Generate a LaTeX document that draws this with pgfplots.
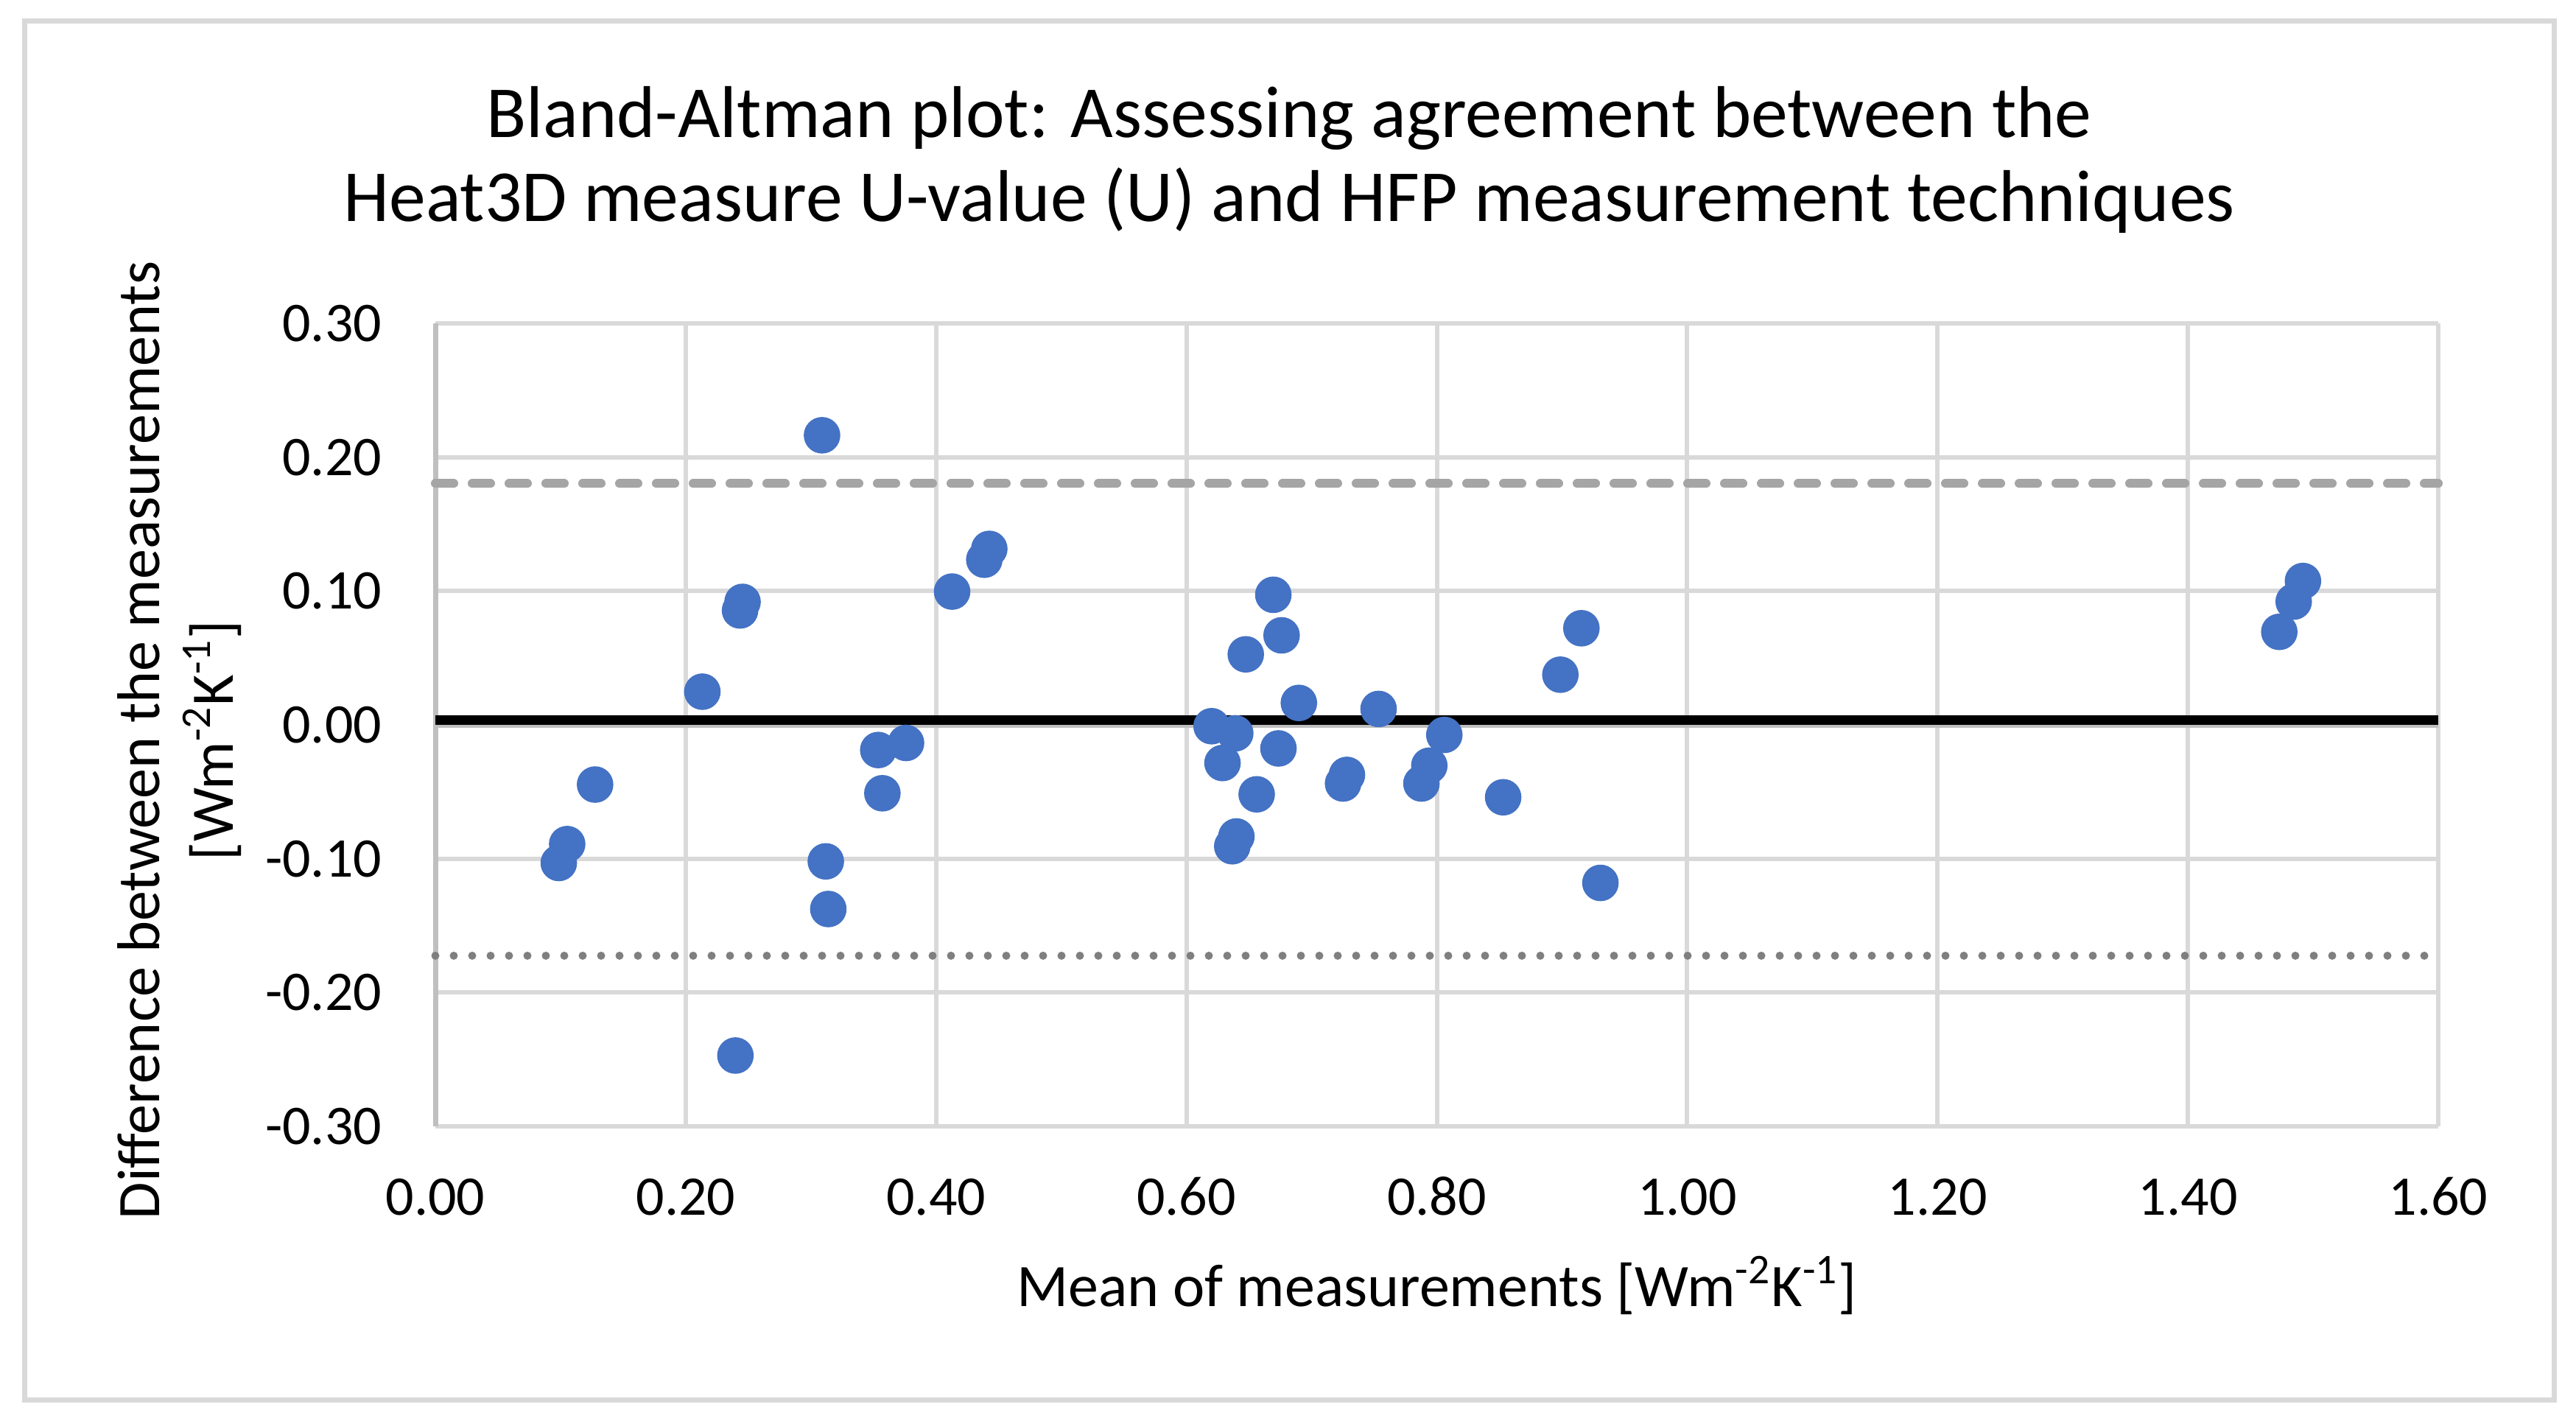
\documentclass[border=0pt]{standalone}
\usepackage{fontspec}
\setmainfont{Carlito}
\usepackage{pgfplots}
\pgfplotsset{compat=1.18}
\definecolor{gridgray}{HTML}{D9D9D9}
\definecolor{axisgray}{HTML}{BFBFBF}
\definecolor{ptblue}{HTML}{4472C4}
\definecolor{dashgray}{HTML}{A5A5A5}
\definecolor{dotgray}{HTML}{7F7F7F}
\begin{document}
\begin{tikzpicture}
\useasboundingbox (0,0) rectangle (874.25pt,482pt);
\fill[white] (0,0) rectangle (874.25pt,482pt);
\draw[gridgray, line width=1.75pt] (8.25pt,7pt) rectangle (866.75pt,474.75pt);
\node[anchor=base, inner sep=0pt, font=\fontsize{24.9}{29}\selectfont] at (437.5pt,435.3pt) {Bland-Altman plot: Assessing agreement between the};
\node[anchor=base, inner sep=0pt, font=\fontsize{24.9}{29}\selectfont] at (437.5pt,406.8pt) {Heat3D measure U-value (U) and HFP measurement techniques};
\begin{axis}[
  at={(147.75pt,99.75pt)}, anchor=south west,
  scale only axis, width=679.75pt, height=272.5pt,
  xmin=0, xmax=1.6, ymin=-0.3, ymax=0.3,
  xtick={0,0.2,0.4,0.6,0.8,1.0,1.2,1.4,1.6},
  ytick={-0.3,-0.2,-0.1,0,0.1,0.2,0.3},
  grid=major,
  major grid style={draw=gridgray, line width=1.5pt},
  axis x line*=bottom, axis y line*=left,
  x axis line style={draw=gridgray, line width=1.5pt, -},
  y axis line style={draw=axisgray, line width=1.75pt, -},
  major tick length=0pt,
  /pgf/number format/assume math mode=true,
  /pgf/number format/fixed,
  /pgf/number format/fixed zerofill,
  /pgf/number format/precision=2,
  ticklabel style={font=\fontsize{19}{22}\selectfont, text=black},
  xticklabel style={anchor=base, inner sep=0pt, yshift=-30pt},
  yticklabel style={anchor=east, inner sep=0pt, xshift=-18pt},
  xlabel={Mean of measurements [Wm\textsuperscript{-2}K\textsuperscript{-1}]},
  xlabel style={at={([yshift=-61pt]axis description cs:0.5,0)}, anchor=base, inner sep=0pt, font=\fontsize{20.5}{25}\selectfont},
  ylabel={Difference between the measurements\\{}[Wm\textsuperscript{-2}K\textsuperscript{-1}]},
  ylabel style={at={([xshift=-65.75pt,yshift=-5.25pt]axis description cs:0,0.5)}, anchor=south, align=center, inner sep=0pt, font=\fontsize{20.5}{25}\selectfont},
  clip=false,
]
\addplot[only marks, mark=*, mark size=6pt, mark options={draw=ptblue, fill=ptblue}] coordinates {
(0.0986,-0.1032) (0.1053,-0.0891) (0.1276,-0.0446) (0.2133,0.0248)
(0.2397,-0.2471) (0.2434,0.0855) (0.2454,0.0919) (0.3089,0.2164)
(0.3119,-0.1020) (0.3139,-0.1376) (0.3538,-0.0188) (0.3571,-0.0511)
(0.3760,-0.0135) (0.4128,0.0996) (0.4385,0.1234) (0.4425,0.1315)
(0.6201,-0.0010) (0.6288,-0.0285) (0.6366,-0.0907) (0.6390,-0.0063)
(0.6399,-0.0834) (0.6474,0.0527) (0.6561,-0.0519) (0.6694,0.0972)
(0.6735,-0.0176) (0.6760,0.0669) (0.6898,0.0164) (0.7251,-0.0438)
(0.7282,-0.0374) (0.7535,0.0119) (0.7877,-0.0438) (0.7940,-0.0305)
(0.8060,-0.0075) (0.8530,-0.0541) (0.8987,0.0375) (0.9155,0.0722)
(0.9307,-0.1181) (1.4730,0.0695) (1.4845,0.0921) (1.4919,0.1075)
};
\addplot[axisgray, line width=3.3pt] coordinates {(0,0.0013) (1.6,0.0013)};
\addplot[black, line width=3.3pt] coordinates {(0,0.0035) (1.6,0.0035)};
\addplot[dashgray, line width=3pt, line cap=round, dash pattern=on 6.25pt off 6.25pt] coordinates {(0,0.1803) (1.6,0.1803)};
\addplot[dotgray, line width=2.75pt, line cap=round, dash pattern=on 0pt off 6.25pt] coordinates {(0,-0.1725) (1.6,-0.1725)};
\end{axis}
\end{tikzpicture}
\end{document}
